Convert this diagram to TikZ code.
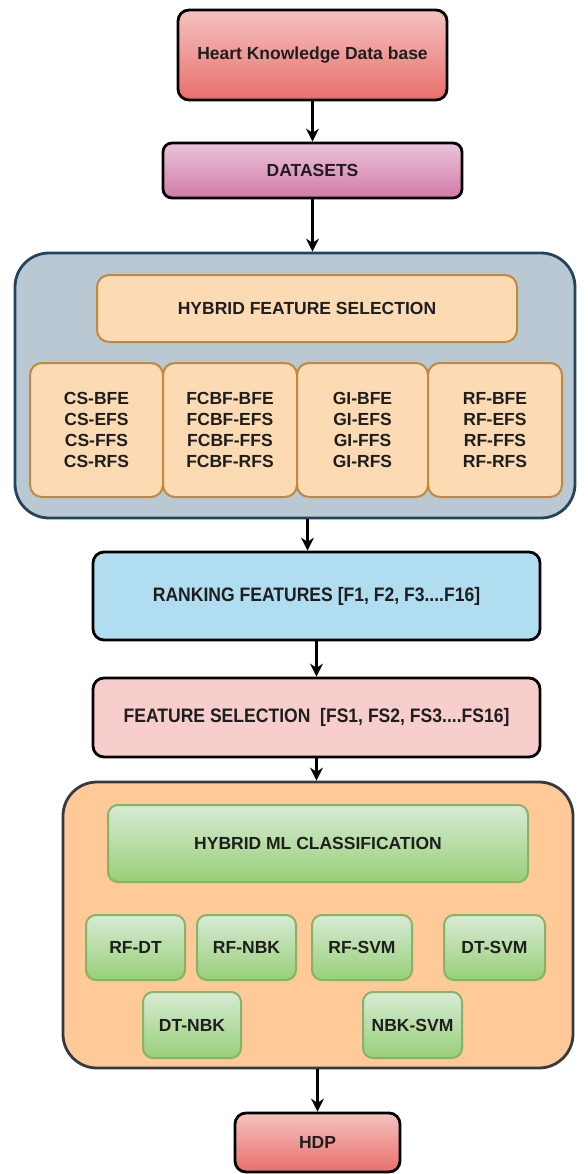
\documentclass[tikz,border=0pt]{standalone}
\usepackage{fontspec}
\setmainfont{Liberation Sans}
\usepackage{tikz}
\usetikzlibrary{arrows.meta, calc, positioning, shapes.misc}

\definecolor{redtop}{HTML}{F5C2BF}
\definecolor{redbot}{HTML}{E96F6B}
\definecolor{pinktop}{HTML}{EBC3D9}
\definecolor{pinkbot}{HTML}{D27BA8}
\definecolor{slatefill}{HTML}{BAC8D3}
\definecolor{slatedraw}{HTML}{23445D}
\definecolor{sandfill}{HTML}{FCDAB3}
\definecolor{sanddraw}{HTML}{BE8A3E}
\definecolor{skyfill}{HTML}{B1DDF0}
\definecolor{rosefill}{HTML}{F8CECC}
\definecolor{peachfill}{HTML}{FFCA97}
\definecolor{peachdraw}{HTML}{36393D}
\definecolor{greentop}{HTML}{D8EBD5}
\definecolor{greenbot}{HTML}{97CF77}
\definecolor{greendraw}{HTML}{86B269}
\definecolor{inktext}{HTML}{1E1E1E}

\tikzset{
  mainbox/.style={draw=black, line width=2.8pt, rectangle, rounded corners=11pt, text=inktext},
  groupbox/.style={rectangle, rounded corners=34pt, line width=2.8pt},
  subbox/.style={draw=sanddraw, line width=2pt, fill=sandfill, rectangle, rounded corners=12pt, text=inktext},
  mlbox/.style={draw=greendraw, line width=2pt, top color=greentop, bottom color=greenbot, rectangle, rounded corners=10pt, text=inktext},
  tallfont/.style={font=\bfseries\fontsize{19.5}{23}\selectfont\addfontfeature{FakeStretch=0.9}},
  flow/.style={-{Stealth[length=13pt, width=13pt]}, line width=2.4pt}
}

\begin{document}
\begin{tikzpicture}[x=1pt, y=-1pt, font=\bfseries\fontsize{17.5}{21}\selectfont]
  \useasboundingbox (0,0) rectangle (588,1174);
  \node[mainbox, top color=redtop, bottom color=redbot, minimum width=269pt, minimum height=90pt] (kdb) at (312.5,55) {Heart Knowledge Data base};
  \node[mainbox, rounded corners=9pt, top color=pinktop, bottom color=pinkbot, minimum width=299pt, minimum height=55pt] (data) at (312.5,170.5) {DATASETS};

  % hybrid feature selection block
  \node[groupbox, draw=slatedraw, fill=slatefill, minimum width=560pt, minimum height=265pt] (hfs) at (295,385.5) {};
  \node[subbox, minimum width=420pt, minimum height=67pt] (hfstitle) at (307,308.5) {HYBRID FEATURE SELECTION};
  \node[subbox, align=center, minimum width=133pt, minimum height=134pt] (cs) at (96.5,430) {CS-BFE\\CS-EFS\\CS-FFS\\CS-RFS};
  \node[subbox, align=center, minimum width=134pt, minimum height=134pt] (fcbf) at (230,430) {FCBF-BFE\\FCBF-EFS\\FCBF-FFS\\FCBF-RFS};
  \node[subbox, align=center, minimum width=131pt, minimum height=134pt] (gi) at (362.5,430) {GI-BFE\\GI-EFS\\GI-FFS\\GI-RFS};
  \node[subbox, align=center, minimum width=134pt, minimum height=134pt] (rf) at (495,430) {RF-BFE\\RF-EFS\\RF-FFS\\RF-RFS};

  \node[mainbox, tallfont, fill=skyfill, minimum width=447pt, minimum height=88pt] (rank) at (316.5,596) {RANKING FEATURES [F1, F2, F3....F16]};
  \node[mainbox, tallfont, fill=rosefill, minimum width=447pt, minimum height=79pt] (fs) at (316.5,717.5) {FEATURE SELECTION\ \ [FS1, FS2, FS3....FS16]};

  % hybrid ML classification block
  \node[groupbox, draw=peachdraw, fill=peachfill, minimum width=510pt, minimum height=286pt] (ml) at (318,925) {};
  \node[mlbox, minimum width=420pt, minimum height=77pt] (mltitle) at (318,843.5) {HYBRID ML CLASSIFICATION};
  \node[mlbox, minimum width=99pt, minimum height=65pt] (rfdt) at (135.5,947.5) {RF-DT};
  \node[mlbox, minimum width=99pt, minimum height=65pt] (rfnbk) at (246.5,947.5) {RF-NBK};
  \node[mlbox, minimum width=100pt, minimum height=65pt] (rfsvm) at (362,947.5) {RF-SVM};
  \node[mlbox, minimum width=101pt, minimum height=65pt] (dtsvm) at (494.5,947.5) {DT-SVM};
  \node[mlbox, minimum width=98pt, minimum height=66pt] (dtnbk) at (192,1025) {DT-NBK};
  \node[mlbox, minimum width=99pt, minimum height=66pt] (nbksvm) at (412.5,1025) {NBK-SVM};

  \node[mainbox, top color=redtop, bottom color=redbot, minimum width=165pt, minimum height=59pt] (hdp) at (317.5,1142.5) {HDP};

  \draw[flow] (kdb) -- (data);
  \draw[flow] (data.south) -- (data.south |- hfs.north);
  \draw[flow] ([xshift=-9pt]rank.north |- hfs.south) -- ([xshift=-9pt]rank.north);
  \draw[flow] (rank) -- (fs);
  \draw[flow] (fs.south) -- (fs.south |- ml.north);
  \draw[flow] (hdp.north |- ml.south) -- (hdp.north);
\end{tikzpicture}
\end{document}
